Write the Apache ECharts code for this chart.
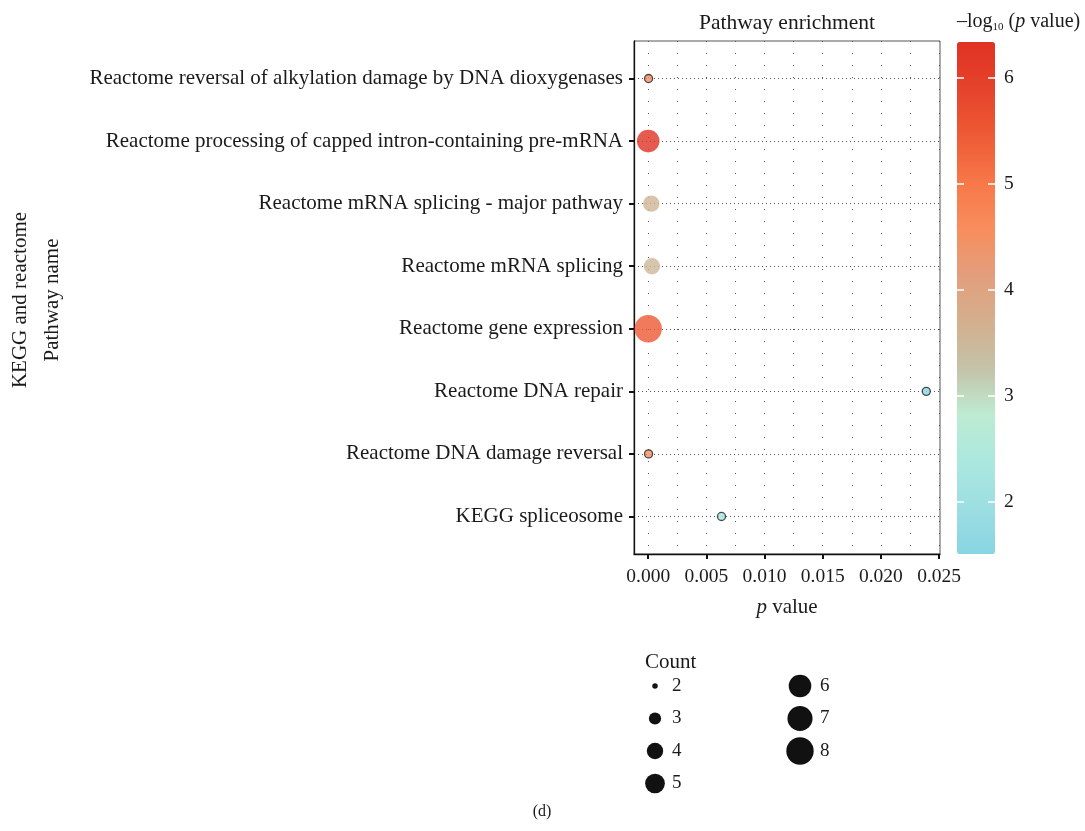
<!DOCTYPE html>
<html>
<head>
<meta charset="utf-8">
<script src="https://cdn.jsdelivr.net/npm/echarts@6/dist/echarts.min.js"></script>
<style>
  html, body { margin: 0; padding: 0; background: #ffffff; }
  #chart { width: 1085px; height: 831px; }
</style>
</head>
<body>
<div id="chart"></div>
<script>
// Pathways, listed top to bottom
const pathways = [
  'Reactome reversal of alkylation damage by DNA dioxygenases',
  'Reactome processing of capped intron-containing pre-mRNA',
  'Reactome mRNA splicing - major pathway',
  'Reactome mRNA splicing',
  'Reactome gene expression',
  'Reactome DNA repair',
  'Reactome DNA damage reversal',
  'KEGG spliceosome'
];
// Enrichment p values and gene counts per pathway
const pValues = [3.2e-5, 4.7e-7, 2.6e-4, 3.2e-4, 3.0e-6, 0.0239, 3.2e-5, 0.0063];
const counts  = [2, 6, 4, 4, 8, 2, 2, 2];

// Axis ticks
const xTickValues = [0, 0.005, 0.010, 0.015, 0.020, 0.025];
const xGridValues = [0, 0.0025, 0.005, 0.0075, 0.010, 0.0125, 0.015, 0.0175, 0.020, 0.0225, 0.025];
const colorTicks = [2, 3, 4, 5, 6];
const legendCounts = [2, 3, 4, 5, 6, 7, 8];

const FONT = '"Liberation Serif", "DejaVu Serif", serif';
const INK = '#1a1a1a';

// Bubble diameter grows with count (area roughly linear in count)
function sizeOf(c) { return Math.sqrt(30 + 120 * (c - 2)); }
const STROKE = 1.3;

const colorMin = 1.51, colorMax = 6.34;
const colorStops = ['#88d5e3', '#9ddee2', '#abe8df', '#beebd2', '#c4c2a8', '#d5af8e',
                    '#e29e7c', '#f98d5c', '#f77748', '#ee5a34', '#e5432c', '#e03224'];

// Smallest bubbles get an outline, which adds to their outer size
const points = pathways.map((name, i) => {
  const outlined = counts[i] <= 2;
  return {
    name: name,
    value: [pValues[i], i, -Math.log10(pValues[i]), counts[i]],
    symbolSize: sizeOf(counts[i]) + (outlined ? 2 * STROKE : 0),
    itemStyle: outlined ? { borderColor: '#222', borderWidth: STROKE } : { borderWidth: 0 }
  };
});

// Plot box
const plot = { left: 634, top: 41, right: 940, bottom: 554 };
const bar = { left: 957, top: 42, width: 38, height: 512 };

// Size legend built from legendCounts
const legendGraphics = [{
  type: 'text', left: 645, top: 652,
  style: { text: 'Count', font: '21px ' + FONT, fill: INK }
}];
legendCounts.forEach((c, k) => {
  const col = k < 4 ? 0 : 1;
  const row = k < 4 ? k : k - 4;
  const cx = col === 0 ? 655 : 800;
  const cy = 686 + row * 32.5;
  const r = sizeOf(c) / 2;
  legendGraphics.push({ type: 'circle', shape: { cx: cx, cy: cy, r: r }, style: { fill: '#111' } });
  legendGraphics.push({
    type: 'text', x: col === 0 ? 672 : 820, y: cy,
    style: { text: String(c), font: '19px ' + FONT, fill: INK, textVerticalAlign: 'middle' }
  });
});

const chart = echarts.init(document.getElementById('chart'), null, { renderer: 'canvas' });

chart.setOption({
  backgroundColor: '#ffffff',
  animation: false,
  textStyle: { fontFamily: FONT },
  grid: [
    { left: plot.left, top: plot.top, width: plot.right - plot.left, height: plot.bottom - plot.top,
      show: true, borderColor: '#555', borderWidth: 1, containLabel: false },
    { left: bar.left, top: bar.top, width: bar.width, height: bar.height, show: false }
  ],
  xAxis: [
    { // dotted vertical guides
      type: 'value', gridIndex: 0, min: -0.00122, max: 0.02508,
      axisLine: { show: true, onZero: false, lineStyle: { color: '#111', width: 1.3 } },
      axisTick: { show: false, customValues: xGridValues },
      axisLabel: { show: false },
      splitLine: { show: true, lineStyle: { color: '#555', width: 1, type: [1, 11] } }
    },
    { // labelled ticks and axis name
      type: 'value', gridIndex: 0, position: 'bottom', min: -0.00122, max: 0.02508,
      axisLine: { show: false, onZero: false },
      axisTick: { show: true, length: 5, lineStyle: { color: '#111', width: 2 }, customValues: xTickValues },
      axisLabel: {
        show: true, customValues: xTickValues, margin: 13,
        fontSize: 19.5, color: INK, fontFamily: FONT,
        formatter: v => v.toFixed(3)
      },
      splitLine: { show: false },
      name: '{i|p} value', nameLocation: 'middle', nameGap: 43,
      nameTextStyle: {
        fontSize: 21, color: INK, fontFamily: FONT,
        rich: { i: { fontStyle: 'italic', fontSize: 21, fontFamily: FONT, color: INK } }
      }
    },
    { type: 'value', gridIndex: 1, show: false, min: 0, max: 1 }
  ],
  yAxis: [
    {
      type: 'value', gridIndex: 0, inverse: true, min: -0.6, max: 7.6,
      axisLine: { show: true, onZero: false, lineStyle: { color: '#111', width: 1.3 } },
      axisTick: { show: true, length: 5, lineStyle: { color: '#111', width: 2 }, customValues: pathways.map((_, i) => i) },
      axisLabel: {
        show: true, customValues: pathways.map((_, i) => i), margin: 11,
        fontSize: 21, color: INK, fontFamily: FONT,
        formatter: v => pathways[Math.round(v)] || ''
      },
      splitLine: { show: true, lineStyle: { color: '#555', width: 1, type: [1, 3] } }
    },
    { // colour bar scale, right side
      type: 'value', gridIndex: 1, position: 'right', min: colorMin, max: colorMax, z: 10,
      axisLine: { show: false, onZero: false },
      axisTick: { show: true, inside: true, length: 7, lineStyle: { color: '#ffffff', width: 1.5 }, customValues: colorTicks },
      axisLabel: { show: true, customValues: colorTicks, margin: 9, fontSize: 19.5, color: INK, fontFamily: FONT },
      splitLine: { show: false }
    },
    { // colour bar scale, left ticks
      type: 'value', gridIndex: 1, position: 'left', min: colorMin, max: colorMax, z: 10,
      axisLine: { show: false, onZero: false },
      axisTick: { show: true, inside: true, length: 7, lineStyle: { color: '#ffffff', width: 1.5 }, customValues: colorTicks },
      axisLabel: { show: false },
      splitLine: { show: false }
    }
  ],
  visualMap: {
    type: 'continuous', min: colorMin, max: colorMax, dimension: 2, seriesIndex: 0,
    calculable: false, realtime: false, hoverLink: false,
    left: bar.left, top: bar.top, itemWidth: bar.width, itemHeight: bar.height,
    padding: 0, text: null, showLabel: false,
    inRange: { color: colorStops }
  },
  series: [{
    type: 'scatter', xAxisIndex: 0, yAxisIndex: 0, z: 5,
    data: points
  }],
  graphic: [
    { type: 'text', x: (plot.left + plot.right) / 2, y: 23,
      style: { text: 'Pathway enrichment', font: '21.5px ' + FONT, fill: INK, textAlign: 'center', textVerticalAlign: 'middle' } },
    { type: 'text', x: 957, y: 22,
      style: {
        text: '{a|–log}{s|10}{a| (}{i|p}{a| value)}',
        textVerticalAlign: 'middle', fill: INK,
        rich: {
          a: { font: '20px ' + FONT, fill: INK, verticalAlign: 'middle' },
          s: { font: '11px ' + FONT, fill: INK, verticalAlign: 'bottom', padding: [10, 0, 0, 0] },
          i: { font: 'italic 20px ' + FONT, fill: INK, verticalAlign: 'middle' }
        }
      } },
    { type: 'text', x: 36, y: 300, rotation: Math.PI / 2,
      style: { text: 'KEGG and reactome\nPathway name', font: '21px ' + FONT, fill: INK,
               textAlign: 'center', textVerticalAlign: 'middle', lineHeight: 32 } },
    { type: 'text', x: 542, y: 812,
      style: { text: '(d)', font: '16px ' + FONT, fill: INK, textAlign: 'center', textVerticalAlign: 'middle' } }
  ].concat(legendGraphics)
});
</script>
</body>
</html>
